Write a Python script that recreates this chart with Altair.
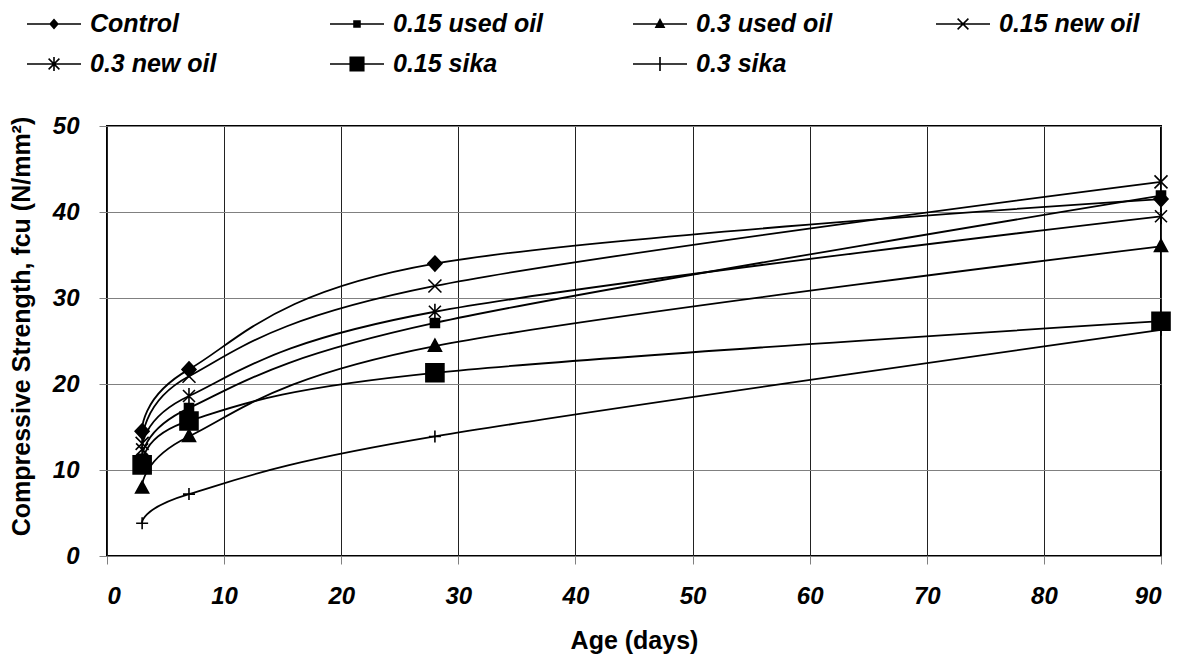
import altair as alt
import pandas as pd

ages = [3, 7, 28, 90]
series_names = ["Control", "0.15 used oil", "0.3 used oil", "0.15 new oil",
                "0.3 new oil", "0.15 sika", "0.3 sika"]
control = [14.5, 21.7, 34.0, 41.5]
used_015 = [11.3, 17.2, 27.1, 41.9]
used_03 = [7.9, 13.9, 24.4, 36.0]
new_015 = [13.1, 20.9, 31.4, 43.5]
new_03 = [12.4, 18.6, 28.4, 39.5]
sika_015 = [10.6, 15.7, 21.3, 27.3]
sika_03 = [3.8, 7.2, 13.9, 26.3]
all_values = [control, used_015, used_03, new_015, new_03, sika_015, sika_03]

x_ticks = [0, 10, 20, 30, 40, 50, 60, 70, 80, 90]
y_ticks = [0, 10, 20, 30, 40, 50]

# marker shapes on the plot (unit = sqrt(size)/2)
point_paths = [
    "M0,-0.75L0.7,0L0,0.75L-0.7,0Z",
    "M-0.45,-0.45H0.45V0.45H-0.45Z",
    "M0,-0.7L0.65,0.5L-0.65,0.5Z",
    "M-0.65,-0.65L0.65,0.65M-0.65,0.65L0.65,-0.65",
    "M-0.6,-0.6L0.6,0.6M-0.6,0.6L0.6,-0.6M0,-0.8V0.8",
    "M-0.9,-0.9H0.9V0.9H-0.9Z",
    "M-0.6,0H0.6M0,-0.6V0.6",
]

# legend symbols: a thin bar with a marker on it, all drawn as filled shapes
BAR = "M-1,-0.03H1V0.03H-1Z"
X_ARMS = "M-0.18,-0.22L0.22,0.18L0.18,0.22L-0.22,-0.18Z M-0.22,0.18L0.18,-0.22L0.22,-0.18L-0.18,0.22Z"
legend_paths = [
    BAR + "M0,-0.2L0.18,0L0,0.2L-0.18,0Z",
    BAR + "M-0.14,-0.14H0.14V0.14H-0.14Z",
    BAR + "M0,-0.22L0.2,0.15L-0.2,0.15Z",
    BAR + X_ARMS,
    BAR + X_ARMS + "M-0.03,-0.26H0.03V0.26H-0.03Z",
    BAR + "M-0.28,-0.28H0.28V0.28H-0.28Z",
    BAR + "M-0.03,-0.26H0.03V0.26H-0.03Z",
]

rows = []
for name, vals in zip(series_names, all_values):
    for a, v in zip(ages, vals):
        rows.append({"series": name, "age": a, "strength": v})
df = pd.DataFrame(rows)

FONT = "Liberation Sans"

x_enc = alt.X("age:Q", scale=alt.Scale(domain=[0, 90], nice=False),
              axis=alt.Axis(values=x_ticks, title="Age (days)", format="d",
                            titlePadding=20, labelPadding=20))
y_enc = alt.Y("strength:Q", scale=alt.Scale(domain=[0, 50], nice=False),
              axis=alt.Axis(values=y_ticks, title="Compressive Strength, fcu  (N/mm²)",
                            gridColor="#808080", labelPadding=20, titlePadding=18,
                            titleY=200))

base = alt.Chart(df)

lines = base.mark_line(interpolate="cardinal", color="black", strokeWidth=1.8).encode(
    x=x_enc, y=y_enc, detail="series:N", order="age:Q")

points = base.mark_point(filled=True, fill="black", stroke="black", opacity=1,
                         strokeWidth=1.6, size=400).encode(
    x="age:Q", y="strength:Q",
    shape=alt.Shape("series:N",
                    scale=alt.Scale(domain=series_names, range=point_paths),
                    legend=None),
)

legend_layer = base.transform_filter("false").mark_point(
    filled=True, color="black", opacity=1).encode(
    x="age:Q", y="strength:Q",
    shape=alt.Shape("series:N",
                    scale=alt.Scale(domain=series_names, range=legend_paths),
                    legend=alt.Legend(
                        orient="none", legendX=-80, legendY=-129, columns=4,
                        direction="horizontal",
                        title=None, symbolSize=2916, symbolStrokeWidth=0,
                        symbolFillColor="black", symbolOpacity=1,
                        labelFont=FONT, labelFontSize=25, labelFontStyle="italic",
                        labelFontWeight="bold", labelColor="black", labelOffset=9,
                        labelLimit=400, columnPadding=89, rowPadding=0,
                        gridAlign="all",
                    )),
)

chart = alt.layer(lines, points, legend_layer).resolve_scale(shape="independent").properties(
    width=1054, height=430,
    autosize=alt.AutoSizeParams(type="none"),
    padding={"left": 99, "top": 118, "right": 12, "bottom": 100},
).configure_view(
    stroke="black", strokeWidth=2
).configure_axis(
    domain=False, grid=True, gridColor="#222", gridWidth=1,
    tickColor="#808080", tickSize=8, tickWidth=1,
    labelFont=FONT, labelFontSize=24, labelFontWeight="bold", labelFontStyle="italic",
    labelColor="black",
    titleFont=FONT, titleFontSize=25, titleFontWeight="bold", titleColor="black",
)

chart.save("out.html", embed_options={"renderer": "svg", "actions": False})
